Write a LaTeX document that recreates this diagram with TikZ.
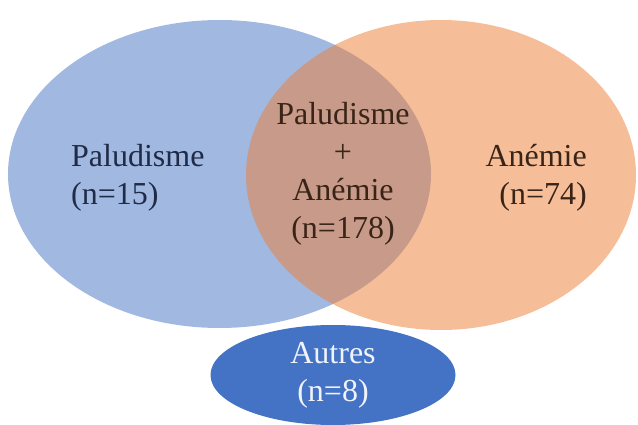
\documentclass[tikz,border=0pt]{standalone}
\usepackage{fontspec}
\setmainfont{Liberation Serif}
\usetikzlibrary{shapes.geometric}
\definecolor{paluBlue}{HTML}{4472C4}
\definecolor{anemOrange}{HTML}{ED7D31}
\definecolor{paluInk}{HTML}{1F2B47}
\definecolor{anemInk}{HTML}{3A2418}

\begin{document}
\begin{tikzpicture}[x=1pt,y=-1pt,
	venn/.style={ellipse,inner sep=0pt,fill opacity=0.5,text opacity=1},
	label/.style={inner sep=0pt,font=\fontsize{32}{38}\selectfont}]
	\useasboundingbox (0,0) rectangle (638,425);
	% the two sets, orange laid over blue
	\node[venn,fill=paluBlue,minimum width=423pt,minimum height=308pt] (palu) at (219.5,174) {};
	\node[venn,fill=anemOrange,minimum width=390pt,minimum height=310pt] (anem) at (441,175) {};
	\node[label,text=paluInk,align=left,anchor=west] (palutext) at (71,178) {Paludisme\\(n=15)};
	\node[label,text=anemInk,align=right,anchor=east] (anemtext) at (587,178) {Anémie\\(n=74)};
	\node[label,text=anemInk,align=center] (bothtext) at (343,174) {Paludisme\\+\\Anémie\\(n=178)};
	% the rest
	\node[label,ellipse,fill=paluBlue,text=paluBlue!8!white,align=center,minimum width=245pt,minimum height=100pt] (autres) at (333,375) {Autres\\(n=8)};
\end{tikzpicture}
\end{document}
